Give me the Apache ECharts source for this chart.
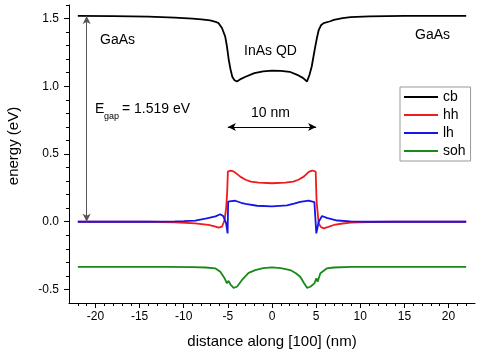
<!DOCTYPE html>
<html>
<head>
<meta charset="utf-8">
<script src="https://cdn.jsdelivr.net/npm/echarts@6/dist/echarts.min.js"></script>
<style>
html,body{margin:0;padding:0;background:#fff;}
#c{width:479px;height:357px;}
</style>
</head>
<body>
<div id="c"></div>
<script>
// ---- data (x in nm, energy in eV) ----
var cbData = [
  [-22,1.519],[-18,1.518],[-14,1.514],[-11,1.507],[-9,1.5],[-8,1.494],[-7,1.486],[-6.4,1.476],
  [-6.05,1.466],[-5.67,1.43],[-5.3,1.367],[-5.1,1.293],[-4.9,1.195],[-4.7,1.125],[-4.5,1.07],
  [-4.25,1.045],[-3.97,1.035],[-3.5,1.055],[-3,1.07],[-2,1.097],[-1,1.11],[0,1.116],[1,1.113],
  [2,1.107],[3,1.08],[3.5,1.062],[3.97,1.035],[4.25,1.085],[4.5,1.146],[4.7,1.22],[4.9,1.293],
  [5.1,1.36],[5.3,1.417],[5.55,1.45],[5.85,1.466],[6.6,1.48],[7,1.49],[8,1.503],[8.9,1.51],
  [9.6,1.513],[11,1.516],[15,1.519],[22,1.519]
];
var hhData = [
  [-22,0],[-14,0],[-11,-0.004],[-8.7,-0.012],[-7.2,-0.024],[-6.5,-0.034],[-6.05,-0.044],
  [-5.67,-0.037],[-5.37,0.013],[-5.18,0.11],[-5.07,0.23],[-5.0,0.37],[-4.7,0.378],[-4.3,0.37],
  [-3.6,0.333],[-3,0.31],[-2.4,0.296],[-1.5,0.288],[0,0.284],[1.5,0.288],[2.4,0.296],[3,0.31],
  [3.6,0.333],[4.2,0.37],[4.6,0.378],[4.95,0.37],[5.05,0.15],[5.29,-0.012],[5.55,-0.04],
  [5.85,-0.049],[6.4,-0.038],[7,-0.024],[8,-0.013],[8.9,-0.007],[11,-0.002],[14,0],[22,0]
];
var lhData = [
  [-22,0],[-14,0],[-11,0.003],[-10,0.005],[-8.7,0.008],[-7.4,0.025],[-6.4,0.04],[-5.86,0.055],
  [-5.5,0.04],[-5.2,-0.012],[-5.03,-0.086],[-4.97,0.148],[-4.6,0.152],[-4.16,0.155],[-3.5,0.14],
  [-3,0.131],[-1.7,0.118],[0,0.114],[1.7,0.121],[2.5,0.133],[3.2,0.146],[4.15,0.155],[4.8,0.145],
  [5.02,-0.086],[5.29,0.0],[5.67,0.042],[6.2,0.028],[7.4,0.009],[8.9,0.002],[11,0],[22,0]
];
var sohData = [
  [-22,-0.333],[-12,-0.333],[-9,-0.335],[-7.5,-0.338],[-6.4,-0.345],[-5.86,-0.37],[-5.37,-0.418],
  [-5.1,-0.455],[-4.92,-0.436],[-4.7,-0.465],[-4.35,-0.488],[-3.97,-0.48],[-3.4,-0.43],
  [-2.65,-0.377],[-1.9,-0.357],[-1,-0.343],[0,-0.337],[1,-0.343],[2.07,-0.357],[2.7,-0.38],
  [3.2,-0.406],[3.6,-0.45],[3.97,-0.488],[4.34,-0.48],[4.8,-0.455],[5.03,-0.418],[5.17,-0.443],
  [5.48,-0.381],[6.2,-0.345],[7,-0.338],[9,-0.334],[22,-0.333]
];
var seriesNames = ['cb','hh','lh','soh'];
var xMajorTicks = [-20,-15,-10,-5,0,5,10,15,20];
var xMinorTicks = [-22,-21,-19,-18,-17,-16,-14,-13,-12,-11,-9,-8,-7,-6,-4,-3,-2,-1,1,2,3,4,6,7,8,9,11,12,13,14,16,17,18,19,21,22];
var yMajorTicks = [-0.5,0,0.5,1.0,1.5];
var yMinorTicks = [-0.4,-0.3,-0.2,-0.1,0.1,0.2,0.3,0.4,0.6,0.7,0.8,0.9,1.1,1.2,1.3,1.4,1.6];
var egapArrow = {x:-21, from:1.519, to:0};
var widthArrow = {y:0.7, from:-5, to:5};

var FONT = "'Liberation Sans', Arial, sans-serif";
var colors = ['#000000','#ee1c1c','#1515e6','#178a17'];
var chart = echarts.init(document.getElementById('c'), null, {renderer:'canvas'});

function mkSeries(name, data, color, extra){
  var s = {
    name:name, type:'line', data:data, showSymbol:false, symbol:'none', smooth:false,
    xAxisIndex:0, yAxisIndex:0,
    lineStyle:{color:color, width:1.8}, itemStyle:{color:color}, animation:false
  };
  if (extra) for (var k in extra) s[k] = extra[k];
  return s;
}

var option = {
  backgroundColor:'#ffffff',
  animation:false,
  grid:{left:69, right:4, top:5, bottom:54, containLabel:false},
  legend:{
    orient:'vertical', left:400, top:87, icon:'rect', itemWidth:34, itemHeight:2, itemGap:4,
    padding:[3,5,3,4], borderColor:'#999', borderWidth:1, backgroundColor:'#fff',
    textStyle:{fontFamily:FONT, fontSize:14, color:'#000'},
    data:seriesNames
  },
  xAxis:[{
    type:'value', min:-23, max:23, position:'bottom',
    axisLine:{show:true, onZero:false, lineStyle:{color:'#000', width:1}},
    axisTick:{show:true, customValues:xMajorTicks, length:5, lineStyle:{color:'#000'}},
    axisLabel:{customValues:xMajorTicks, margin:8, fontFamily:FONT, fontSize:12, color:'#000'},
    splitLine:{show:false},
    name:'distance along [100] (nm)', nameLocation:'middle', nameGap:31,
    nameTextStyle:{fontFamily:FONT, fontSize:15, color:'#000'}
  },{
    type:'value', min:-23, max:23, position:'bottom', offset:0,
    axisLine:{show:false, onZero:false},
    axisTick:{show:true, customValues:xMinorTicks, length:3, lineStyle:{color:'#000'}},
    axisLabel:{show:false}, splitLine:{show:false}
  }],
  yAxis:[{
    type:'value', min:-0.6, max:1.6, position:'left',
    axisLine:{show:true, onZero:false, lineStyle:{color:'#000', width:1}},
    axisTick:{show:true, customValues:yMajorTicks, length:5, lineStyle:{color:'#000'}},
    axisLabel:{customValues:yMajorTicks, margin:10, fontFamily:FONT, fontSize:12, color:'#000',
      formatter:function(v){return v.toFixed(1);}},
    splitLine:{show:false}
  },{
    type:'value', min:-0.6, max:1.6, position:'left', offset:0,
    axisLine:{show:false, onZero:false},
    axisTick:{show:true, customValues:yMinorTicks, length:3, lineStyle:{color:'#000'}},
    axisLabel:{show:false}, splitLine:{show:false}
  }],
  series:[
    mkSeries('cb', cbData, colors[0], {
      markLine:{
        silent:true, symbol:['arrow','arrow'], symbolSize:[6,8], animation:false,
        label:{show:false},
        lineStyle:{type:'solid', width:1},
        data:[
          [{coord:[egapArrow.x, egapArrow.from], lineStyle:{color:'#555', type:'solid', width:1}},
           {coord:[egapArrow.x, egapArrow.to]}],
          [{coord:[widthArrow.from, widthArrow.y], lineStyle:{color:'#000', type:'solid', width:1}},
           {coord:[widthArrow.to, widthArrow.y]}]
        ]
      }
    }),
    mkSeries('hh', hhData, colors[1]),
    mkSeries('lh', lhData, colors[2]),
    mkSeries('soh', sohData, colors[3])
  ],
  graphic:[
    {type:'text', x:14, y:146, rotation:Math.PI/2,
      style:{text:'energy (eV)', font:'15px '+FONT, fill:'#000', align:'center', verticalAlign:'middle'}},
    {type:'text', x:100, y:40, style:{text:'GaAs', font:'14px '+FONT, fill:'#000', verticalAlign:'middle'}},
    {type:'text', x:415, y:35, style:{text:'GaAs', font:'14px '+FONT, fill:'#000', verticalAlign:'middle'}},
    {type:'text', x:244, y:51, style:{text:'InAs QD', font:'14px '+FONT, fill:'#000', verticalAlign:'middle'}},
    {type:'text', x:251, y:113, style:{text:'10 nm', font:'14px '+FONT, fill:'#000', verticalAlign:'middle'}},
    {type:'text', x:95, y:109, style:{text:'E', font:'14px '+FONT, fill:'#000', verticalAlign:'middle'}},
    {type:'text', x:104, y:117, style:{text:'gap', font:'9px '+FONT, fill:'#000', verticalAlign:'middle'}},
    {type:'text', x:122, y:109, style:{text:'= 1.519 eV', font:'14px '+FONT, fill:'#000', verticalAlign:'middle'}}
  ]
};
chart.setOption(option);
</script>
</body>
</html>
